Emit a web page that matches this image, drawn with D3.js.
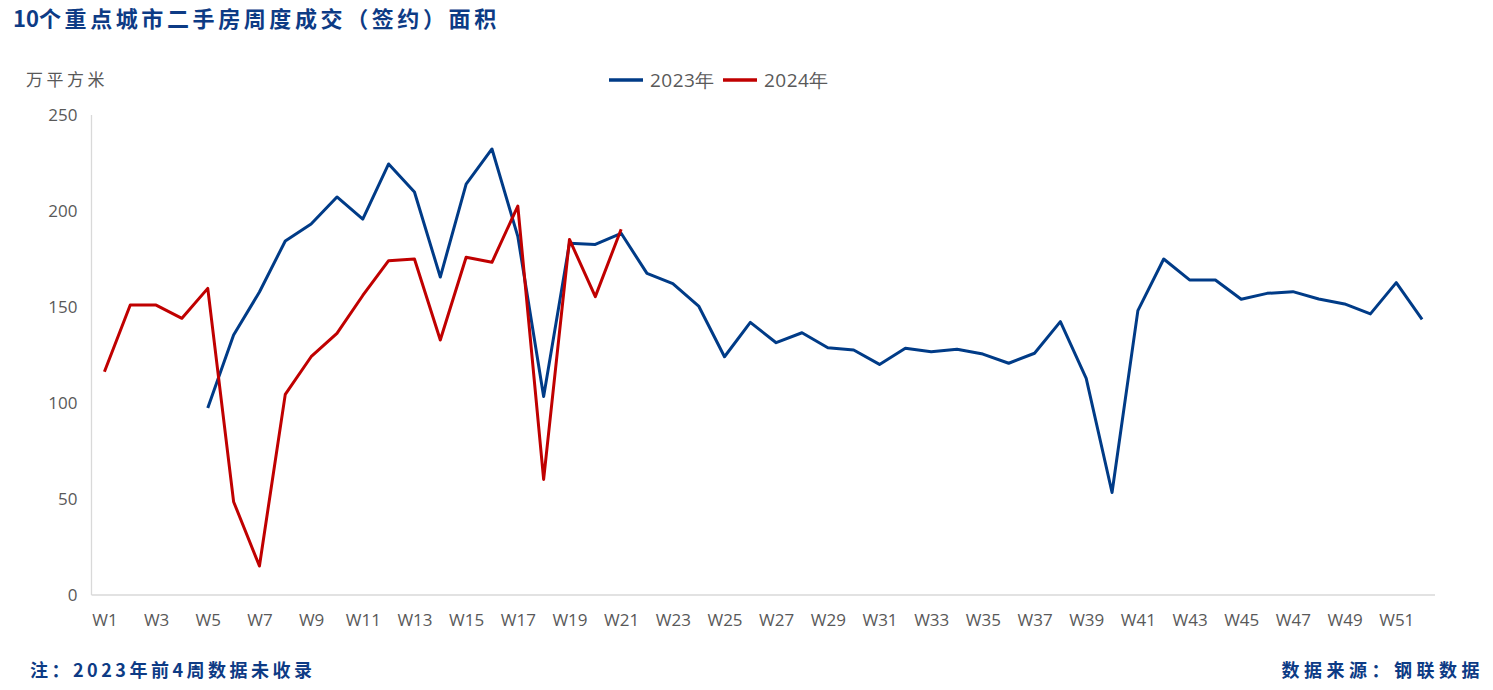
<!DOCTYPE html>
<html><head><meta charset="utf-8">
<script src="https://cdn.jsdelivr.net/npm/d3@7"></script>
<style>body{margin:0;background:#fff;}svg{display:block;}</style>
</head><body>
<svg id="c" width="1493" height="690"></svg>
<script>
const weeks = d3.range(1, 53).map(i => "W" + i);
const tickLabels = weeks.filter((w, i) => i % 2 === 0);
const yTicks = [0, 50, 100, 150, 200, 250];
const series2023 = [null, null, null, null,
  97.4, 135.4, 157.8, 184.4, 193.2, 207.3, 195.8, 224.5, 209.9, 165.6, 214, 232.3,
  186.8, 103.4, 183.2, 182.6, 188.4, 167.5, 162.2, 150.5, 124.1, 142, 131.4, 136.6,
  128.8, 127.6, 120.1, 128.5, 126.7, 128, 125.5, 120.7, 125.9, 142.4, 112.8, 53.4,
  148.1, 175, 164.1, 164.1, 154, 157.1, 158, 154.2, 151.6, 146.4, 162.7, 143.6];
const series2024 = [116.3, 151, 151, 144.1, 159.7, 48.6, 15.1, 104.5, 124.1, 136.3,
  156, 174.1, 175, 132.8, 175.9, 173.3, 202.6, 60.2, 185.2, 155.4, 190.5];
const seriesNames = ["2023年", "2024年"];
const colors = ["#003b87", "#c00000"];

const svg = d3.select("#c");
const pLeft = 91.5, pRight = 1435, pTop = 115, pBottom = 595;
const x = d3.scalePoint().domain(weeks).range([pLeft, pRight]).padding(0.5);
const y = d3.scaleLinear().domain([0, 250]).range([pBottom, pTop]);

const fontCJK = "'Noto Sans CJK SC', 'Noto Sans', sans-serif";
const fontNum = "'Open Sans', 'Noto Sans', sans-serif";

// title
const title = svg.append("text").attr("x", 13).attr("y", 27).attr("font-family", fontCJK)
  .attr("font-weight", "bold").attr("font-size", 22).attr("fill", "#0d3b85");
title.append("tspan").text("10");
title.append("tspan").attr("letter-spacing", 3.6).text("个重点城市二手房周度成交（签约）面积");

// unit
svg.append("text").attr("x", 26).attr("y", 86).attr("font-family", fontCJK)
  .attr("font-size", 17).attr("fill", "#595959").attr("letter-spacing", 3.5).text("万平方米");

// axes lines
svg.append("line").attr("x1", pLeft).attr("x2", pLeft).attr("y1", pTop).attr("y2", pBottom)
  .attr("stroke", "#d9d9d9").attr("stroke-width", 1.3);
svg.append("line").attr("x1", pLeft).attr("x2", pRight).attr("y1", pBottom).attr("y2", pBottom)
  .attr("stroke", "#d9d9d9").attr("stroke-width", 1.3);

// y axis labels
const yAxis = d3.axisLeft(y).tickValues(yTicks).tickSize(0).tickPadding(14);
const gy = svg.append("g").attr("transform", `translate(${pLeft},0)`).call(yAxis);
gy.select(".domain").remove();
gy.selectAll("text").attr("font-family", fontNum).attr("font-size", 17).attr("fill", "#595959");

// x axis labels
const xAxis = d3.axisBottom(x).tickValues(tickLabels).tickSize(0).tickPadding(19);
const gx = svg.append("g").attr("transform", `translate(0,${pBottom})`).call(xAxis);
gx.select(".domain").remove();
gx.selectAll("text").attr("font-family", fontNum).attr("font-size", 17).attr("fill", "#595959");

// lines
const line = d3.line().defined(d => d.v != null).x(d => x(d.w)).y(d => y(d.v));
[series2023, series2024].forEach((s, i) => {
  const data = s.map((v, j) => ({ w: weeks[j], v }));
  svg.append("path").datum(data).attr("d", line).attr("fill", "none")
    .attr("stroke", colors[i]).attr("stroke-width", 3).attr("stroke-linejoin", "round");
});

// legend
const legendPos = [609, 723];
seriesNames.forEach((n, i) => {
  svg.append("line").attr("x1", legendPos[i]).attr("x2", legendPos[i] + 34)
    .attr("y1", 80).attr("y2", 80).attr("stroke", colors[i]).attr("stroke-width", 3.5);
  svg.append("text").attr("x", legendPos[i] + 41).attr("y", 87).attr("font-family", fontNum)
    .attr("font-size", 19).attr("fill", "#595959").attr("letter-spacing", 0.5).text(n);
});

// footer
svg.append("text").attr("x", 30).attr("y", 677).attr("font-family", fontCJK)
  .attr("font-weight", "bold").attr("font-size", 18).attr("fill", "#0d3b85").attr("letter-spacing", 3.5)
  .text("注：2023年前4周数据未收录");
svg.append("text").attr("x", 1484).attr("y", 677).attr("text-anchor", "end").attr("font-family", fontCJK)
  .attr("font-weight", "bold").attr("font-size", 18).attr("fill", "#0d3b85").attr("letter-spacing", 4.5)
  .text("数据来源：钢联数据");
</script>
</body></html>
